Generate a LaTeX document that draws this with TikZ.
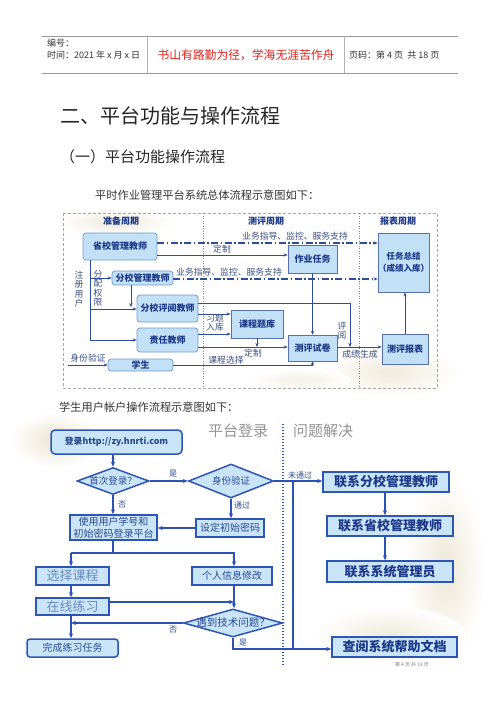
\documentclass[tikz,border=0pt]{standalone}
\usepackage{fontspec}
\setmainfont{Noto Sans CJK SC}
\usetikzlibrary{arrows.meta,shapes.geometric}
\definecolor{b1}{HTML}{6F9AD0}
\definecolor{f1}{HTML}{C2E0F6}
\definecolor{t1}{HTML}{1E3A8A}
\definecolor{lc}{HTML}{2D4C9E}
\definecolor{labc}{HTML}{3A4E80}
\definecolor{b2}{HTML}{2C55B6}
\definecolor{f2}{HTML}{CBE5F8}
\definecolor{t2}{HTML}{2A4A90}
\definecolor{t3}{HTML}{6B8BBB}
\definecolor{lc2}{HTML}{2B52B4}
\definecolor{beige}{HTML}{E9E1CC}
\definecolor{hd}{HTML}{333333}
\definecolor{redt}{HTML}{E3201B}
\begin{document}
\begin{tikzpicture}[x=1pt,y=-1pt,
  d1r/.style={draw=b1, fill=f1, rounded corners=3pt, line width=0.7pt, inner sep=0pt, font=\fontsize{9}{10.5}\selectfont\bfseries, text=t1},
  d1s/.style={d1r, rounded corners=0pt, draw=lc!80},
  ln/.style={draw=lc, line width=0.9pt},
  arr/.style={ln, -{Stealth[length=4pt,width=3.2pt]}},
  dd/.style={arr, line width=1.1pt, dash pattern=on 7pt off 2.5pt on 1.5pt off 2.5pt},
  lab/.style={font=\fontsize{8.8}{9.5}\selectfont, text=labc, inner sep=0pt},
  ttl/.style={font=\fontsize{9}{10}\selectfont\bfseries, text=t1, inner sep=0pt},
  d2/.style={draw=b2, fill=f2, line width=1.5pt, inner sep=0pt, text=t2, font=\fontsize{9.5}{12}\selectfont},
  dia/.style={d2, diamond},
  dtx/.style={inner sep=0pt, text=t2, font=\fontsize{9.5}{12}\selectfont},
  d2b/.style={d2, font=\fontsize{13}{14}\selectfont\bfseries, text=t1},
  d2c/.style={d2, font=\fontsize{13}{14}\selectfont, text=t3},
  arr2/.style={draw=lc2, line width=1.4pt, -{Stealth[length=5pt,width=4.2pt]}},
  ln2/.style={draw=lc2, line width=1.4pt},
  lab2/.style={font=\fontsize{8}{9}\selectfont, text=t2, inner sep=0pt},
  hdt/.style={font=\fontsize{9}{10}\selectfont, text=hd, inner sep=0pt, anchor=west}]
\useasboundingbox (0,0) rectangle (500,707);

% ---------------- header ----------------
\draw[draw=gray!80, line width=1pt] (42,36) -- (458,36);
\draw[draw=gray!80, line width=1pt] (42,73) -- (458,73);
\draw[draw=gray!60, line width=0.8pt] (147,36) -- (147,73);
\draw[draw=gray!60, line width=0.8pt] (344,36) -- (344,73);
\node[hdt] (h1) at (47,43) {编号：};
\node[hdt] (h2) at (47,55) {时间：2021 年 x 月 x 日};
\node[font=\fontsize{11.8}{13}\selectfont, text=redt, inner sep=0pt] (h3) at (246,55) {书山有路勤为径，学海无涯苦作舟};
\node[hdt] (h4) at (349,55) {页码：第 4 页 \ 共 18 页};

% ---------------- headings ----------------
\node[font=\fontsize{20}{22}\selectfont, text=black!85, inner sep=0pt, anchor=west] (t1) at (60,116) {二、平台功能与操作流程};
\node[font=\fontsize{15}{17}\selectfont, text=black!85, inner sep=0pt, anchor=west] (t2) at (60,157) {（一）平台功能操作流程};
\node[font=\fontsize{11.2}{13}\selectfont, text=black!80, inner sep=0pt, anchor=west] (t3) at (95,195) {平时作业管理平台系统总体流程示意图如下：};
\node[font=\fontsize{11.2}{13}\selectfont, text=black!80, inner sep=0pt, anchor=west] (t4) at (59,407) {学生用户帐户操作流程示意图如下：};

% ---------------- diagram 1 ----------------
\shade[inner color=beige!70, outer color=white] (115,222) ellipse (60 and 14);
\shade[inner color=beige!70, outer color=white] (390,372) ellipse (70 and 26);
\shade[inner color=beige!50, outer color=white] (300,380) ellipse (50 and 12);
\draw[draw=gray!70, line width=0.7pt, dash pattern=on 3pt off 2pt] (63,213) rectangle (437,388);
\draw[draw=lc!70, line width=0.7pt, dash pattern=on 1pt off 1.5pt] (203,213) -- (203,388);
\draw[draw=lc!70, line width=0.7pt, dash pattern=on 1pt off 1.5pt] (359,213) -- (359,388);
\node[ttl] (c1t) at (121,221) {准备周期};
\node[ttl] (c2t) at (266,221) {测评周期};
\node[ttl] (c3t) at (398,221) {报表周期};

\node[d1r, minimum width=74pt, minimum height=27pt] (sx) at (120,246.5) {省校管理教师};
\node[d1r, minimum width=61pt, minimum height=14pt] (fg) at (142.5,278) {分校管理教师};
\node[d1r, minimum width=61pt, minimum height=27pt] (fp) at (167.5,308.5) {分校评阅教师};
\node[d1r, minimum width=61pt, minimum height=24pt] (zr) at (167.5,340) {责任教师};
\node[d1r, minimum width=65pt, minimum height=12pt] (xs) at (140.5,365) {学生};
\node[d1s, minimum width=49pt, minimum height=28pt] (zy) at (312.5,259) {作业任务};
\node[d1s, minimum width=52pt, minimum height=28pt] (tk) at (257,324) {课程题库};
\node[d1s, minimum width=49pt, minimum height=26pt] (sj) at (312.5,348) {测评试卷};
\node[d1s, minimum width=49pt, minimum height=59pt, align=center, font=\fontsize{8.5}{12}\selectfont\bfseries] (zj) at (403.5,262.5) {任务总结\\（成绩入库）};
\node[d1s, minimum width=46pt, minimum height=30pt] (bb) at (405,349) {测评报表};

\coordinate (y243) at (0,243);
\coordinate (y255) at (0,255);
\coordinate (y279) at (0,279);
\coordinate (y303) at (0,303);
\coordinate (y307) at (0,307);
\coordinate (y309) at (0,309);
\coordinate (y314) at (0,314);
\coordinate (y334) at (0,334);
\coordinate (y347) at (0,347);
\coordinate (x90) at (90,0);
\coordinate (x131) at (131,0);
\coordinate (pyend) at (350,347);
\coordinate (sfs) at (68,365);

\draw[dd] (sx.east |- y243) -- (zj.west |- y243);
\draw[arr] (sx.east |- y255) -- (zy.west |- y255);
\draw[dd] (fg.east |- y279) -- (zj.west |- y279);
\draw[arr] (zy.south) -- (sj.north);
\draw[arr] (fp.east |- y303) -| (pyend);
\draw[arr] (fp.east |- y314) -- (tk.west |- y314);
\draw[arr] (zr.east |- y334) -- (tk.west |- y334);
\draw[arr] (zr.east |- y347) -- (sj.west |- y347);
\draw[arr] (tk.south) -- (tk.south |- y347);
\draw[arr] (xs.east) -| (sj.south);
\draw[arr] (sj.east |- y347) -- (bb.west |- y347);
\draw[arr] (bb.north) -- (bb.north |- zj.south);
\draw[arr] (sx.south -| x90) |- (zr.west);
\draw[arr] (x90 |- fg.west) -- (fg.west);
\draw[arr] (x90 |- y309) -- (fp.west |- y309);
\draw[arr] (fg.south -| x131) -- (x131 |- y307);
\draw[arr] (sfs) -- (xs.west);

\node[lab] (l1) at (295,236) {业务指导、监控、服务支持};
\node[lab] (l2) at (222,249) {定制};
\node[lab] (l3) at (229,272) {业务指导、监控、服务支持};
\node[lab, align=center] (l4) at (342,331) {评\\阅};
\node[lab, align=left] (l5) at (215,323) {习题\\入库};
\node[lab] (l6) at (253,353.5) {定制};
\node[lab] (l7) at (226,360) {课程选择};
\node[lab] (l8) at (360,354) {成绩生成};
\node[lab] (l9) at (88,358) {身份验证};
\node[lab, align=center] (l10) at (79,289) {注\\册\\用\\户};
\node[lab, align=center] (l11) at (98,288) {分\\配\\权\\限};

% ---------------- diagram 2 ----------------
\shade[inner color=beige!90, outer color=white] (55,440) ellipse (45 and 28);
\shade[inner color=beige!80, outer color=white] (445,570) ellipse (40 and 95);
\shade[inner color=beige!70, outer color=white] (390,635) ellipse (75 and 28);
\draw[draw=lc2, line width=1.1pt, dash pattern=on 1pt off 2pt] (283,424) -- (283,665);
\node[font=\fontsize{15}{16}\selectfont, text=gray!85, inner sep=0pt] (p1) at (238,431) {平台登录};
\node[font=\fontsize{15}{16}\selectfont, text=gray!85, inner sep=0pt] (p2) at (323,431) {问题解决};

\node[d2, rounded corners=4pt, minimum width=131pt, minimum height=24pt, font=\fontsize{8.8}{10}\selectfont\bfseries] (lg) at (116.5,442) {登录http://zy.hnrti.com};
\node[dia, minimum width=72pt, minimum height=27pt] (q1) at (113,481) {};
\node[dtx] (q1t) at (q1.center) {首次登录？};
\node[dia, minimum width=85pt, minimum height=34pt] (q2) at (231,481) {};
\node[dtx] (q2t) at (q2.center) {身份验证};
\node[d2, minimum width=87pt, minimum height=25pt, align=center, font=\fontsize{10}{12}\selectfont] (us) at (113.5,527.5) {使用用户学号和\\初始密码登录平台};
\node[d2, minimum width=68pt, minimum height=18pt, font=\fontsize{10}{12}\selectfont] (st) at (230,528) {设定初始密码};
\node[d2c, minimum width=73pt, minimum height=18pt] (xz) at (72.5,576) {选择课程};
\node[d2, minimum width=80pt, minimum height=18pt, font=\fontsize{10}{12}\selectfont] (gr) at (232,576) {个人信息修改};
\node[d2c, minimum width=73pt, minimum height=17pt] (zx) at (72.5,606.5) {在线练习};
\node[dia, minimum width=99pt, minimum height=28pt] (q3) at (233,623) {};
\node[dtx, font=\fontsize{10.5}{12}\selectfont] (q3t) at (q3.center) {遇到技术问题？};
\node[d2, rounded corners=3pt, minimum width=91pt, minimum height=18pt, font=\fontsize{10}{12}\selectfont] (wc) at (72.5,648) {完成练习任务};
\node[d2b, minimum width=126pt, minimum height=20pt] (k1) at (386,482) {联系分校管理教师};
\node[d2b, minimum width=126pt, minimum height=20pt] (k2) at (390,526) {联系省校管理教师};
\node[d2b, minimum width=126pt, minimum height=21pt] (k3) at (390,571.5) {联系系统管理员};
\node[d2b, minimum width=125pt, minimum height=20pt] (k4) at (394.5,647) {查阅系统帮助文档};
\node[font=\fontsize{5}{6}\selectfont, text=gray, inner sep=0pt] (pg) at (412,665) {第 4 页 共 18 页};

\coordinate (x71) at (71,0);
\coordinate (x234) at (234,0);
\coordinate (x293) at (293,0);
\coordinate (x385) at (385,0);
\coordinate (y553) at (0,553);
\coordinate (y602) at (0,602);
\coordinate (y649) at (0,649);
\coordinate (jn) at (293,481);

\draw[arr2] (lg.south -| q1.north) -- (q1.north);
\draw[arr2] (q1.east) -- (q2.west);
\draw[arr2] (q1.south) -- (us.north -| q1.south);
\draw[arr2] (q2.south) -- (st.north -| q2.south);
\draw[arr2] (st.west) -- (us.east |- st.west);
\draw[arr2] (q2.east) -- (k1.west |- q2.east);
\draw[arr2] (jn) |- (k4.west |- y649);
\draw[arr2] (x385 |- k1.south) -- (x385 |- k2.north);
\draw[arr2] (x385 |- k2.south) -- (x385 |- k3.north);
\draw[ln2] (us.south -| q1.south) -- (q1.south |- y553);
\draw[arr2] (x71 |- y553) -- (x71 |- xz.north);
\draw[arr2] (x71 |- y553) -| (x234 |- gr.north);
\draw[arr2] (x71 |- xz.south) -- (x71 |- zx.north);
\draw[arr2] (zx.east |- y602) -- (x234 |- y602);
\draw[arr2] (x234 |- gr.south) -- (x234 |- q3.north);
\draw[arr2] (q3.west) -- (x71 |- q3.west);
\draw[arr2] (x71 |- zx.south) -- (x71 |- wc.north);
\draw[ln2] (q3.south) -- (q3.south |- y649) -- (x293 |- y649);

\node[lab2] (a1) at (173,474) {是};
\node[lab2] (a2) at (122,505) {否};
\node[lab2] (a3) at (242,505) {通过};
\node[lab2] (a4) at (300,475) {未通过};
\node[lab2] (a5) at (173,630) {否};
\node[lab2] (a6) at (243,643) {是};
\end{tikzpicture}
\end{document}
